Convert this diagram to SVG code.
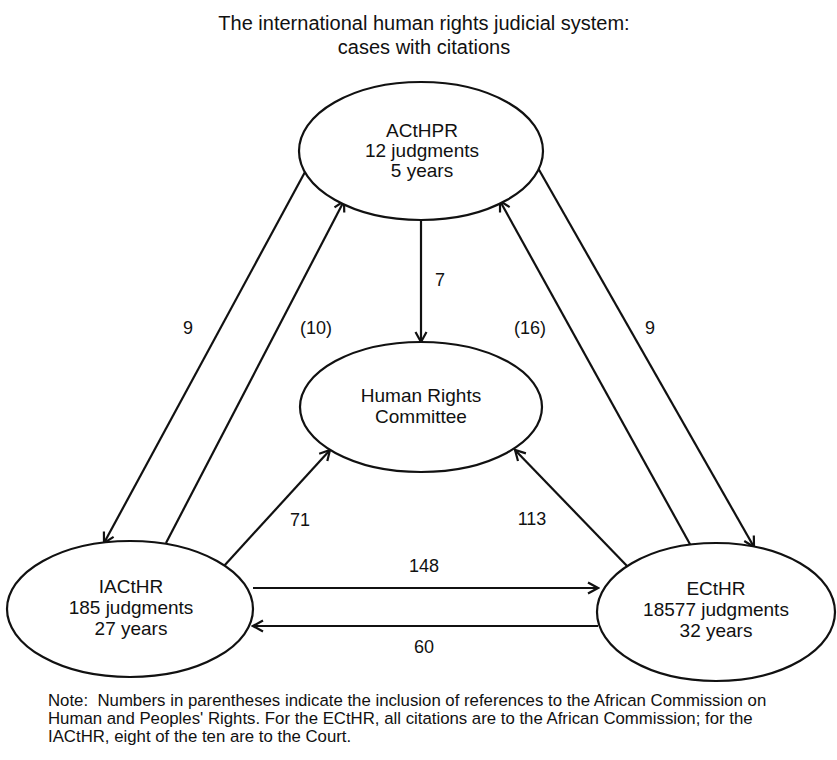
<svg xmlns="http://www.w3.org/2000/svg" width="837" height="760" viewBox="0 0 837 760">
<style>
text{font-family:"Liberation Sans",Arial,sans-serif;fill:#111}
.t{font-size:20px;text-anchor:middle}
.n{font-size:19px;text-anchor:middle}
.l{font-size:18px;text-anchor:middle}
.note{font-size:16.8px;white-space:pre}
ellipse{fill:#fff;stroke:#111;stroke-width:2.2}
#connectors line{stroke:#111;stroke-width:2.2;marker-end:url(#ah)}
</style>
<defs>
<marker id="ah" markerUnits="userSpaceOnUse" viewBox="-12 -7 14 14" refX="0" refY="0" markerWidth="14" markerHeight="14" orient="auto">
<path d="M-10,-5.5 L0,0 L-10,5.5" fill="none" stroke="#111" stroke-width="2.2"/>
</marker>
</defs>
<rect width="837" height="760" fill="#fff"/>
<g id="title">
<text class="t" x="424" y="30">The international human rights judicial system:</text>
<text class="t" x="424" y="54">cases with citations</text>
</g>
<g id="connectors">
<line x1="305" y1="172" x2="104" y2="543"/>
<line x1="166" y1="543" x2="344" y2="201"/>
<line x1="421" y1="221" x2="421" y2="342"/>
<line x1="691" y1="546" x2="500" y2="201"/>
<line x1="538" y1="168" x2="754" y2="547"/>
<line x1="224" y1="566" x2="330" y2="450"/>
<line x1="628" y1="567" x2="515" y2="450"/>
<line x1="253" y1="588" x2="598" y2="588"/>
<line x1="598" y1="626" x2="253" y2="626"/>
</g>
<g id="edge-labels">
<text class="l" x="188" y="334">9</text>
<text class="l" x="316" y="334">(10)</text>
<text class="l" x="530" y="334">(16)</text>
<text class="l" x="650" y="334">9</text>
<text class="l" x="440" y="286">7</text>
<text class="l" x="300" y="526">71</text>
<text class="l" x="532" y="525">113</text>
<text class="l" x="424" y="572">148</text>
<text class="l" x="424" y="653">60</text>
</g>
<g id="node-acthpr">
<ellipse cx="421" cy="151" rx="122" ry="69"/>
<text class="n" x="422" y="137">ACtHPR</text>
<text class="n" x="422" y="157">12 judgments</text>
<text class="n" x="422" y="177">5 years</text>
</g>
<g id="node-hrc">
<ellipse cx="421" cy="407" rx="121" ry="65"/>
<text class="n" x="421" y="402">Human Rights</text>
<text class="n" x="421" y="423">Committee</text>
</g>
<g id="node-iacthr">
<ellipse cx="130" cy="609" rx="123" ry="68"/>
<text class="n" x="131" y="593">IACtHR</text>
<text class="n" x="131" y="614">185 judgments</text>
<text class="n" x="131" y="635">27 years</text>
</g>
<g id="node-ecthr">
<ellipse cx="716" cy="612" rx="119" ry="69"/>
<text class="n" x="716" y="595">ECtHR</text>
<text class="n" x="716" y="616">18577 judgments</text>
<text class="n" x="716" y="637">32 years</text>
</g>
<g id="note">
<text class="note" x="48" y="706">Note:  Numbers in parentheses indicate the inclusion of references to the African Commission on</text>
<text class="note" x="48" y="724">Human and Peoples' Rights. For the ECtHR, all citations are to the African Commission; for the</text>
<text class="note" x="48" y="742">IACtHR, eight of the ten are to the Court.</text>
</g>
</svg>
